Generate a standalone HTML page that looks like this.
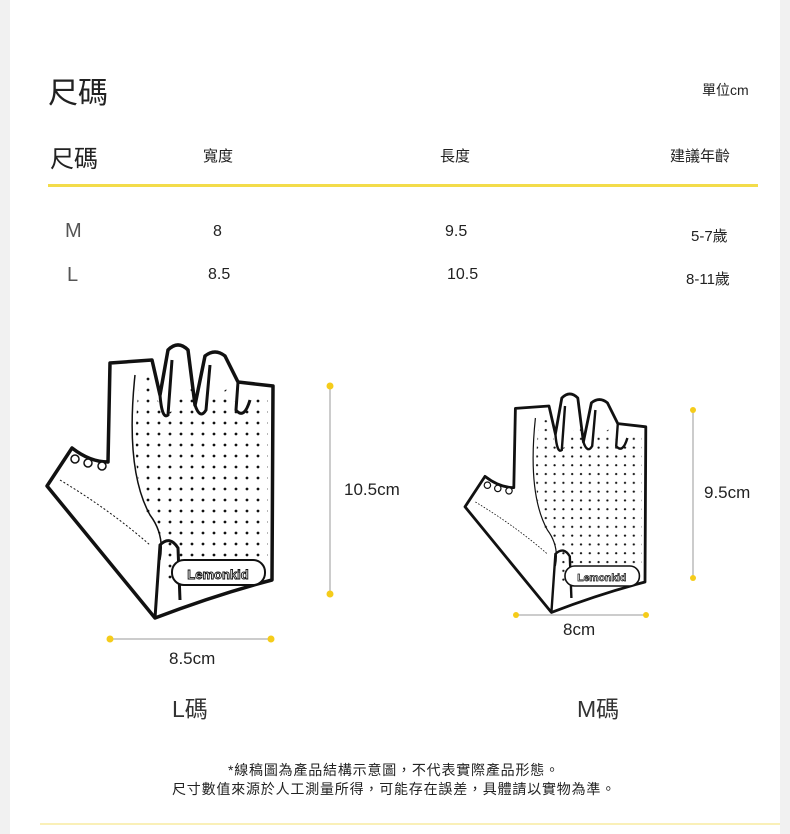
<!DOCTYPE html>
<html><head><meta charset="utf-8"><style>
body{margin:0;background:#f1f1f1;}
#p{position:relative;width:790px;height:834px;overflow:hidden;font-family:"Liberation Sans","Noto Sans CJK TC",sans-serif;color:#222;}
#w{position:absolute;left:10px;top:0;width:770px;height:834px;background:#fff;}
.t{position:absolute;white-space:nowrap;}
</style></head><body><div id="p"><div id="w"></div>
<div class="t" style="left:48px;top:68px;font-size:30px;">尺碼</div>
<div class="t" style="left:702px;top:80px;font-size:14px;">單位cm</div>
<div class="t" style="left:50px;top:139px;font-size:24px;">尺碼</div>
<div class="t" style="left:203px;top:145px;font-size:15px;">寬度</div>
<div class="t" style="left:440px;top:145px;font-size:15px;">長度</div>
<div class="t" style="left:670px;top:145px;font-size:15px;">建議年齡</div>
<div style="position:absolute;left:48px;top:184px;width:710px;height:3px;background:#f3dc4a;"></div>
<div class="t" style="left:65px;top:220px;font-size:20px;color:#555;">M</div>
<div class="t" style="left:67px;top:264px;font-size:20px;color:#555;">L</div>
<div class="t" style="left:213px;top:223px;font-size:16px;">8</div>
<div class="t" style="left:208px;top:266px;font-size:16px;">8.5</div>
<div class="t" style="left:445px;top:223px;font-size:16px;">9.5</div>
<div class="t" style="left:447px;top:266px;font-size:16px;">10.5</div>
<div class="t" style="left:691px;top:225px;font-size:15px;">5-7歲</div>
<div class="t" style="left:686px;top:268px;font-size:15px;">8-11歲</div>
<svg style="position:absolute;left:0;top:0" width="790" height="834">
<defs>
<pattern id="dots" width="11" height="11" patternUnits="userSpaceOnUse"><circle cx="5" cy="5" r="1.4" fill="#111"/></pattern>
<g id="glove">
<path d="M110,363 L152,360 L160,395 L168,350 Q178,340 188,350 L195,405 L205,356 Q215,348 225,356 L238,382 L273,386 L272,580 Q215,595 155,618 L47,486 L72,448 Q90,462 108,462 Z" fill="#fff" stroke="#111" stroke-width="3.5" stroke-linejoin="round"/>
<path d="M140,375 L152,372 L160,410 Q170,420 178,400 L190,375 L196,412 Q206,420 212,400 L232,385 L236,410 Q244,418 250,400 L268,395 L268,560 L165,580 Q168,540 150,520 Q128,480 140,375 Z" fill="url(#dots)"/>
<path d="M160,395 Q162,420 168,415 L172,360 M195,405 Q200,420 206,410 L210,365 M238,382 L236,410 Q244,420 250,400" fill="none" stroke="#111" stroke-width="3"/>
<path d="M135,375 Q125,470 150,515 Q165,535 160,560" fill="none" stroke="#111" stroke-width="1.5"/>
<path d="M60,480 Q110,510 150,545" fill="none" stroke="#111" stroke-width="1" stroke-dasharray="2,2"/>
<path d="M155,618 L160,545 Q170,535 178,548 L180,600" fill="none" stroke="#111" stroke-width="3"/>
<rect x="172" y="560" width="93" height="25" rx="12" fill="#fff" stroke="#111" stroke-width="2"/>
<text x="218" y="579" text-anchor="middle" font-size="13" font-weight="bold" fill="#fff" stroke="#111" stroke-width="0.9" font-family="Liberation Sans,sans-serif">Lemonkid</text>
<circle cx="75" cy="459" r="4" fill="#fff" stroke="#111" stroke-width="1.5"/>
<circle cx="88" cy="463" r="4" fill="#fff" stroke="#111" stroke-width="1.5"/>
<circle cx="102" cy="466" r="4" fill="#fff" stroke="#111" stroke-width="1.5"/>
</g>
</defs>
<use href="#glove"/>
<use href="#glove" transform="translate(465,394) scale(0.8) translate(-47,-345)"/>
<g stroke="#bbb" stroke-width="1.5"><line x1="330" y1="386" x2="330" y2="594"/><line x1="110" y1="639" x2="271" y2="639"/><line x1="693" y1="410" x2="693" y2="578"/><line x1="516" y1="615" x2="646" y2="615"/></g>
<g fill="#f5cc1a"><circle cx="330" cy="386" r="3.5"/><circle cx="330" cy="594" r="3.5"/><circle cx="110" cy="639" r="3.5"/><circle cx="271" cy="639" r="3.5"/><circle cx="693" cy="410" r="3"/><circle cx="693" cy="578" r="3"/><circle cx="516" cy="615" r="3"/><circle cx="646" cy="615" r="3"/></g>
</svg>
<div class="t" style="left:344px;top:480px;font-size:17px;">10.5cm</div>
<div class="t" style="left:704px;top:483px;font-size:17px;">9.5cm</div>
<div class="t" style="left:169px;top:649px;font-size:17px;">8.5cm</div>
<div class="t" style="left:563px;top:620px;font-size:17px;">8cm</div>
<div class="t" style="left:172px;top:690px;font-size:23px;color:#333;">L碼</div>
<div class="t" style="left:577px;top:690px;font-size:23px;color:#333;">M碼</div>
<div class="t" style="left:228px;top:760px;font-size:14px;letter-spacing:0.8px;">*線稿圖為產品結構示意圖，不代表實際產品形態。</div>
<div class="t" style="left:172px;top:779px;font-size:14px;letter-spacing:0.8px;">尺寸數值來源於人工測量所得，可能存在誤差，具體請以實物為準。</div>
<div style="position:absolute;left:40px;top:823px;width:740px;height:2px;background:#faf0b8;"></div>
</div></body></html>
